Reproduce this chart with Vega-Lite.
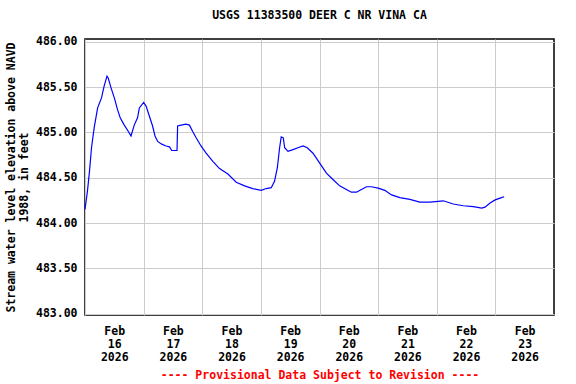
{
  "$schema": "https://vega.github.io/schema/vega-lite/v6.json",
  "width": 469,
  "height": 276,
  "autosize": {"type": "none"},
  "padding": {"left": 85, "top": 39, "right": 22, "bottom": 69},
  "background": "white",
  "title": {
    "text": "USGS 11383500 DEER C NR VINA CA",
    "font": "DejaVu Sans Mono",
    "fontSize": 11.5,
    "fontWeight": "bold",
    "color": "black",
    "anchor": "middle",
    "offset": 14
  },
  "config": {
    "view": {"stroke": "black", "strokeWidth": 1.5},
    "axis": {
      "labelFont": "DejaVu Sans Mono",
      "labelFontSize": 11.5,
      "labelFontWeight": "bold",
      "labelColor": "black",
      "titleFont": "DejaVu Sans Mono",
      "titleFontSize": 11.5,
      "titleFontWeight": "bold",
      "titleColor": "black",
      "gridColor": "#cccccc",
      "gridWidth": 1,
      "ticks": false,
      "domain": false
    }
  },
  "data": {
    "values": [
      {"time": "2026-02-16T00:00:00Z", "elev": 484.15},
      {"time": "2026-02-16T01:00:00Z", "elev": 484.35},
      {"time": "2026-02-16T01:50:00Z", "elev": 484.57},
      {"time": "2026-02-16T02:40:00Z", "elev": 484.83},
      {"time": "2026-02-16T03:45:00Z", "elev": 485.05},
      {"time": "2026-02-16T05:10:00Z", "elev": 485.27},
      {"time": "2026-02-16T06:45:00Z", "elev": 485.38},
      {"time": "2026-02-16T07:50:00Z", "elev": 485.51},
      {"time": "2026-02-16T09:00:00Z", "elev": 485.62},
      {"time": "2026-02-16T09:30:00Z", "elev": 485.6},
      {"time": "2026-02-16T10:40:00Z", "elev": 485.49},
      {"time": "2026-02-16T12:00:00Z", "elev": 485.38},
      {"time": "2026-02-16T13:20:00Z", "elev": 485.25},
      {"time": "2026-02-16T14:25:00Z", "elev": 485.16},
      {"time": "2026-02-16T16:05:00Z", "elev": 485.08},
      {"time": "2026-02-16T17:45:00Z", "elev": 485.01},
      {"time": "2026-02-16T18:50:00Z", "elev": 484.96},
      {"time": "2026-02-16T20:10:00Z", "elev": 485.08},
      {"time": "2026-02-16T21:30:00Z", "elev": 485.16},
      {"time": "2026-02-16T22:15:00Z", "elev": 485.27},
      {"time": "2026-02-17T00:00:00Z", "elev": 485.33},
      {"time": "2026-02-17T01:00:00Z", "elev": 485.29},
      {"time": "2026-02-17T02:20:00Z", "elev": 485.18},
      {"time": "2026-02-17T03:40:00Z", "elev": 485.07},
      {"time": "2026-02-17T04:40:00Z", "elev": 484.96},
      {"time": "2026-02-17T05:45:00Z", "elev": 484.9},
      {"time": "2026-02-17T07:25:00Z", "elev": 484.87},
      {"time": "2026-02-17T09:10:00Z", "elev": 484.85},
      {"time": "2026-02-17T10:35:00Z", "elev": 484.84},
      {"time": "2026-02-17T11:30:00Z", "elev": 484.8},
      {"time": "2026-02-17T13:40:00Z", "elev": 484.8},
      {"time": "2026-02-17T13:55:00Z", "elev": 485.07},
      {"time": "2026-02-17T15:20:00Z", "elev": 485.08},
      {"time": "2026-02-17T17:20:00Z", "elev": 485.09},
      {"time": "2026-02-17T18:45:00Z", "elev": 485.08},
      {"time": "2026-02-17T20:05:00Z", "elev": 485.01},
      {"time": "2026-02-17T21:30:00Z", "elev": 484.94},
      {"time": "2026-02-17T23:30:00Z", "elev": 484.85},
      {"time": "2026-02-18T01:35:00Z", "elev": 484.77},
      {"time": "2026-02-18T04:20:00Z", "elev": 484.68},
      {"time": "2026-02-18T07:05:00Z", "elev": 484.6},
      {"time": "2026-02-18T10:30:00Z", "elev": 484.54},
      {"time": "2026-02-18T13:55:00Z", "elev": 484.45},
      {"time": "2026-02-18T17:20:00Z", "elev": 484.41},
      {"time": "2026-02-18T20:40:00Z", "elev": 484.38},
      {"time": "2026-02-19T00:10:00Z", "elev": 484.36},
      {"time": "2026-02-19T02:10:00Z", "elev": 484.38},
      {"time": "2026-02-19T04:15:00Z", "elev": 484.39},
      {"time": "2026-02-19T05:35:00Z", "elev": 484.46},
      {"time": "2026-02-19T06:45:00Z", "elev": 484.61},
      {"time": "2026-02-19T07:40:00Z", "elev": 484.83},
      {"time": "2026-02-19T08:20:00Z", "elev": 484.95},
      {"time": "2026-02-19T09:10:00Z", "elev": 484.94},
      {"time": "2026-02-19T09:45:00Z", "elev": 484.83},
      {"time": "2026-02-19T11:05:00Z", "elev": 484.79},
      {"time": "2026-02-19T13:10:00Z", "elev": 484.81},
      {"time": "2026-02-19T15:10:00Z", "elev": 484.83},
      {"time": "2026-02-19T17:15:00Z", "elev": 484.85},
      {"time": "2026-02-19T19:00:00Z", "elev": 484.83},
      {"time": "2026-02-19T21:20:00Z", "elev": 484.77},
      {"time": "2026-02-20T00:05:00Z", "elev": 484.66},
      {"time": "2026-02-20T02:50:00Z", "elev": 484.55},
      {"time": "2026-02-20T05:30:00Z", "elev": 484.48},
      {"time": "2026-02-20T08:15:00Z", "elev": 484.41},
      {"time": "2026-02-20T11:00:00Z", "elev": 484.37},
      {"time": "2026-02-20T13:05:00Z", "elev": 484.34},
      {"time": "2026-02-20T15:10:00Z", "elev": 484.34},
      {"time": "2026-02-20T17:10:00Z", "elev": 484.37},
      {"time": "2026-02-20T19:15:00Z", "elev": 484.4},
      {"time": "2026-02-20T21:15:00Z", "elev": 484.4},
      {"time": "2026-02-21T00:00:00Z", "elev": 484.385},
      {"time": "2026-02-21T02:45:00Z", "elev": 484.36},
      {"time": "2026-02-21T05:30:00Z", "elev": 484.31},
      {"time": "2026-02-21T08:55:00Z", "elev": 484.28},
      {"time": "2026-02-21T13:00:00Z", "elev": 484.26},
      {"time": "2026-02-21T17:05:00Z", "elev": 484.23},
      {"time": "2026-02-21T21:15:00Z", "elev": 484.23},
      {"time": "2026-02-22T02:40:00Z", "elev": 484.245},
      {"time": "2026-02-22T06:45:00Z", "elev": 484.21},
      {"time": "2026-02-22T10:50:00Z", "elev": 484.19},
      {"time": "2026-02-22T15:00:00Z", "elev": 484.18},
      {"time": "2026-02-22T18:25:00Z", "elev": 484.165},
      {"time": "2026-02-22T19:45:00Z", "elev": 484.175},
      {"time": "2026-02-22T21:50:00Z", "elev": 484.22},
      {"time": "2026-02-22T23:55:00Z", "elev": 484.255},
      {"time": "2026-02-23T01:55:00Z", "elev": 484.275},
      {"time": "2026-02-23T03:35:00Z", "elev": 484.29}
    ]
  },
  "mark": {"type": "line", "color": "#0000ff", "strokeWidth": 1.2, "interpolate": "linear"},
  "encoding": {
    "x": {
      "field": "time",
      "type": "temporal",
      "scale": {
        "type": "utc",
        "domain": [
          {"year": 2026, "month": 2, "date": 16, "utc": true},
          {"year": 2026, "month": 2, "date": 24, "utc": true}
        ]
      },
      "axis": {
        "values": [
          {"year": 2026, "month": 2, "date": 16, "utc": true},
          {"year": 2026, "month": 2, "date": 17, "utc": true},
          {"year": 2026, "month": 2, "date": 18, "utc": true},
          {"year": 2026, "month": 2, "date": 19, "utc": true},
          {"year": 2026, "month": 2, "date": 20, "utc": true},
          {"year": 2026, "month": 2, "date": 21, "utc": true},
          {"year": 2026, "month": 2, "date": 22, "utc": true},
          {"year": 2026, "month": 2, "date": 23, "utc": true}
        ],
        "labelExpr": "[utcFormat(datum.value, '%b'), utcFormat(datum.value, '%d'), utcFormat(datum.value, '%Y')]",
        "labelOffset": 29.25,
        "labelPadding": 10,
        "labelLineHeight": 13,
        "labelBaseline": "top",
        "labelFlush": false,
        "labelOverlap": false,
        "title": "---- Provisional Data Subject to Revision ----",
        "titleColor": "#ff0000",
        "titlePadding": 7
      }
    },
    "y": {
      "field": "elev",
      "type": "quantitative",
      "scale": {"domain": [482.985, 486.03], "nice": false, "zero": false},
      "axis": {
        "values": [483, 483.5, 484, 484.5, 485, 485.5, 486],
        "format": ".2f",
        "labelPadding": 8,
        "title": ["Stream water level elevation above NAVD", "1988, in feet"],
        "titleLineHeight": 13,
        "titlePadding": 6
      }
    }
  }
}
